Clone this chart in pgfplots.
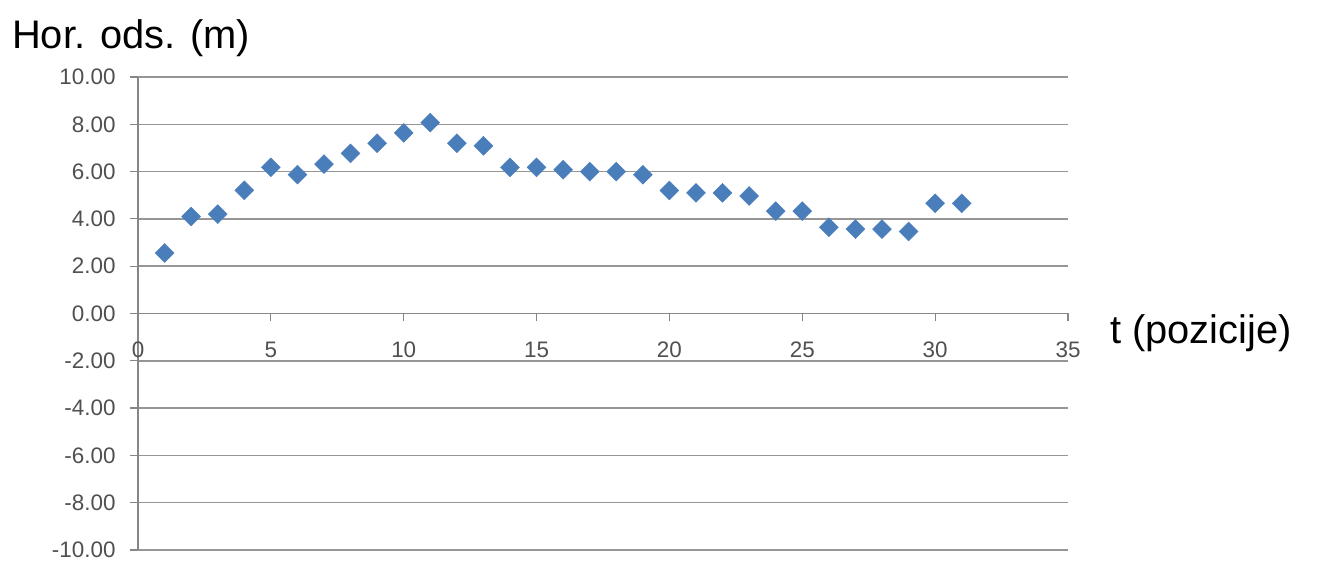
\documentclass[border=0pt]{standalone}
\usepackage{pgfplots}
\pgfplotsset{compat=1.18}
\usepackage{fontspec}
\setmainfont{Liberation Sans}
\definecolor{mkblue}{RGB}{74,126,187}
\definecolor{axgray}{RGB}{134,134,134}
\definecolor{grgray}{RGB}{150,150,150}
\definecolor{tkgray}{RGB}{80,80,80}
\begin{document}
\begin{tikzpicture}
\useasboundingbox (0,0) rectangle (1317bp,564bp);
\begin{axis}[
  at={(138bp,14bp)}, anchor=south west,
  scale only axis, width=930bp, height=473bp,
  xmin=0, xmax=35, ymin=-10, ymax=10,
  axis x line=middle, axis y line=left,
  axis line style={-, axgray, line width=1.5bp},
  hide obscured x ticks=false,
  xtick={0,5,...,35}, ytick={-10,-8,...,10},
  ymajorgrids, grid style={grgray, line width=1.5bp},
  tick style={axgray, line width=1.2bp},
  major tick length=8bp, tick align=outside,
  y tick label style={/pgf/number format/.cd, fixed, fixed zerofill, precision=2, /tikz/.cd},
  /pgf/number format/assume math mode=true,
  ticklabel style={font=\fontsize{22.5}{26}\selectfont, text=tkgray},
  xticklabel style={anchor=north, yshift=-17bp},
  yticklabel style={xshift=-11bp},
  xlabel={t (pozicije)},
  xlabel style={at={(axis description cs:1.0452,0.4376)}, anchor=base west, inner sep=0pt, font=\fontsize{40}{44}\selectfont},
  ylabel={Hor. ods. (m)},
  ylabel style={rotate=-90, at={(axis description cs:-0.1355,1.0613)}, anchor=base west, inner sep=0pt, font=\fontsize{40}{44}\selectfont},
  clip=false,
]
\addplot[only marks, mark=square*, mark size=6.7bp, mark options={rotate=45, fill=mkblue, draw=mkblue}] coordinates {
(1,2.56) (2,4.1) (3,4.2) (4,5.21) (5,6.18) (6,5.87) (7,6.32) (8,6.77) (9,7.2) (10,7.64)
(11,8.07) (12,7.2) (13,7.09) (14,6.18) (15,6.18) (16,6.08) (17,6.0) (18,6.0) (19,5.87) (20,5.2)
(21,5.1) (22,5.1) (23,4.97) (24,4.33) (25,4.33) (26,3.65) (27,3.57) (28,3.57) (29,3.47) (30,4.66) (31,4.66)
};
\end{axis}
\end{tikzpicture}
\end{document}
